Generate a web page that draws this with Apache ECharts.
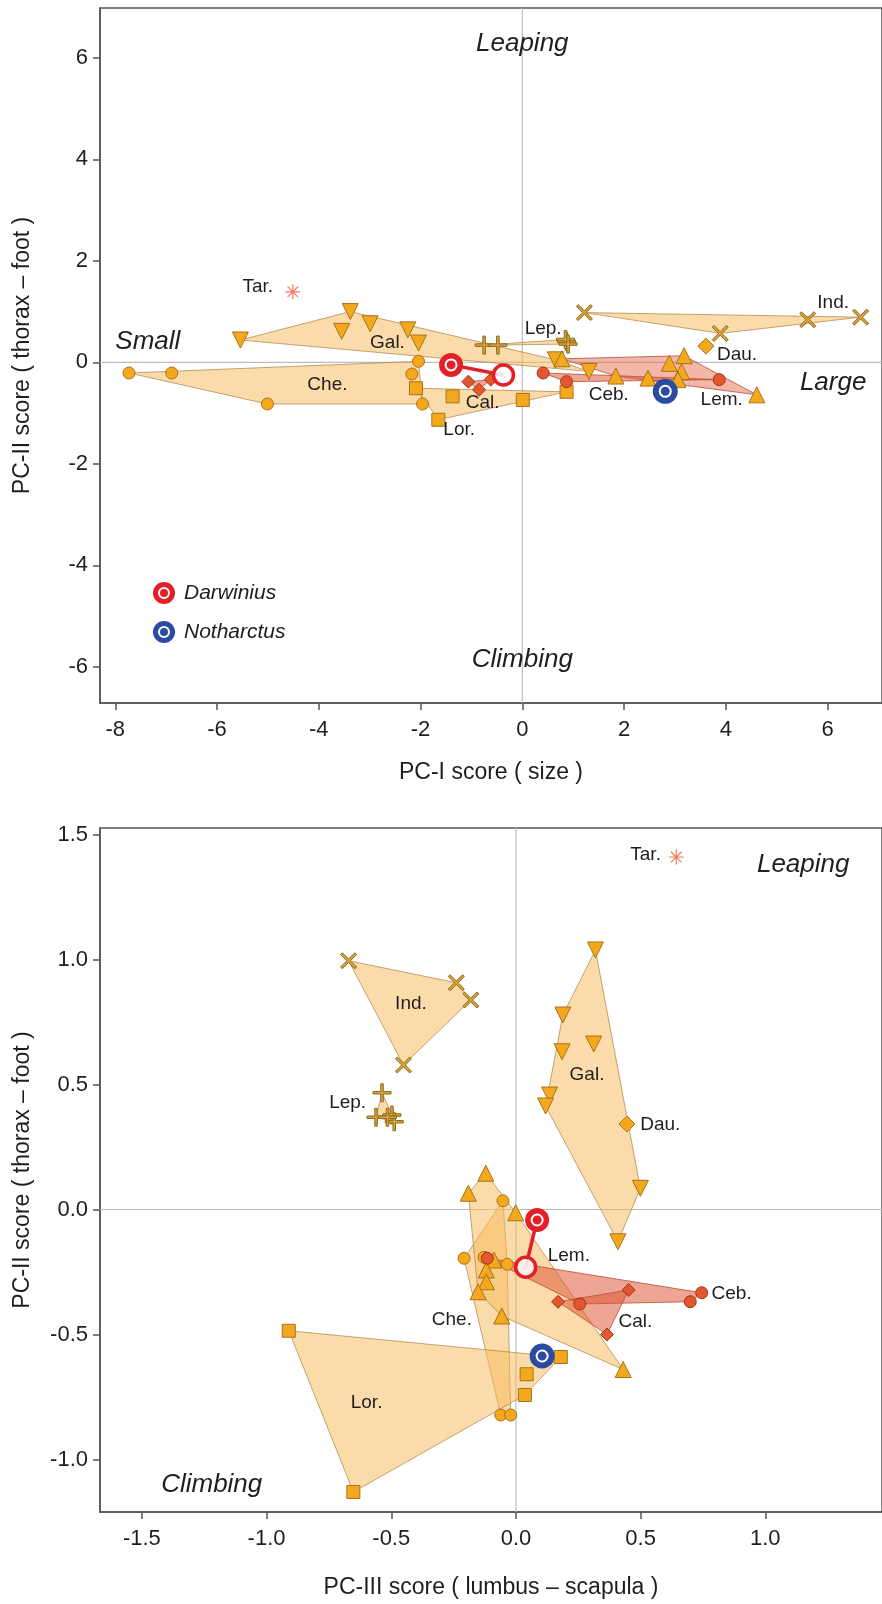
<!DOCTYPE html>
<html><head><meta charset="utf-8">
<script src="https://cdn.jsdelivr.net/npm/echarts@6/dist/echarts.min.js"></script>
<style>html,body{margin:0;padding:0;background:#fff}#c{width:882px;height:1604px}</style>
</head><body><div id="c"></div>
<script>
// ---------- Top chart data: PC-I (size) vs PC-II (thorax - foot)
const topXTicks = [-8, -6, -4, -2, 0, 2, 4, 6];
const topYTicks = [-6, -4, -2, 0, 2, 4, 6];
const topChe = [[-7.73,-0.21],[-6.89,-0.21],[-5.01,-0.82],[-2.04,0.02],[-2.17,-0.23],[-1.96,-0.82]];
const topGal = [[-5.54,0.44],[-3.38,1.00],[-3.55,0.61],[-2.99,0.76],[-2.25,0.64],[-2.04,0.38],[0.65,0.05],[1.31,-0.18]];
const topLor = [[-2.09,-0.51],[-1.37,-0.67],[0.01,-0.74],[0.87,-0.58],[-1.65,-1.13]];
const topLem = [[0.78,0.07],[1.84,-0.27],[2.47,-0.31],[2.89,-0.02],[3.18,0.13],[3.13,-0.18],[3.06,-0.34],[4.61,-0.64]];
const topInd = [[1.22,0.98],[5.61,0.84],[6.65,0.89],[3.89,0.57]];
const topLep = [[-0.75,0.34],[-0.48,0.34],[0.87,0.41],[0.85,0.45],[0.90,0.36]];
const topDau = [[3.61,0.32]];
const topTar = [[-4.51,1.39]];
const topCeb = [[0.41,-0.21],[0.87,-0.38],[3.87,-0.34]];
const topCal = [[-1.06,-0.38],[-0.85,-0.54],[-0.62,-0.34]];
const topDarwinius = [[-1.40,-0.05],[-0.37,-0.25]];
const topNotharctus = [[2.81,-0.57]];
const topLabels = [['Tar.',-5.20,1.49],['Gal.',-2.65,0.38],['Che.',-3.83,-0.44],['Cal.',-0.78,-0.80],['Lor.',-1.24,-1.33],['Lep.',0.41,0.67],['Ind.',6.11,1.17],['Dau.',4.22,0.15],['Ceb.',1.70,-0.64],['Lem.',3.92,-0.74]];
const topBigLabels = [['Leaping',0,6.28],['Climbing',0,-5.86],['Small',-7.36,0.40],['Large',6.11,-0.41]];

// ---------- Bottom chart data: PC-III (lumbus - scapula) vs PC-II (thorax - foot)
const botXTicks = [-1.5, -1.0, -0.5, 0.0, 0.5, 1.0];
const botYTicks = [-1.0, -0.5, 0.0, 0.5, 1.0, 1.5];
const botChe = [[-0.052,0.035],[-0.208,-0.195],[-0.128,-0.191],[-0.035,-0.219],[-0.061,-0.822],[-0.021,-0.822]];
const botGal = [[0.319,1.038],[0.188,0.778],[0.185,0.631],[0.312,0.662],[0.135,0.458],[0.119,0.414],[0.499,0.085],[0.409,-0.129]];
const botLor = [[-0.911,-0.485],[0.18,-0.59],[0.043,-0.659],[0.036,-0.742],[-0.652,-1.13]];
const botLem = [[-0.121,0.145],[-0.191,0.065],[-0.001,-0.013],[-0.088,-0.202],[-0.119,-0.242],[-0.119,-0.289],[-0.152,-0.329],[-0.057,-0.426],[0.43,-0.64]];
const botInd = [[-0.671,0.995],[-0.239,0.907],[-0.181,0.838],[-0.451,0.578]];
const botLep = [[-0.537,0.467],[-0.561,0.369],[-0.497,0.378],[-0.488,0.351],[-0.515,0.369]];
const botDau = [[0.445,0.342]];
const botTar = [[0.643,1.41]];
const botCeb = [[-0.115,-0.195],[0.256,-0.378],[0.699,-0.369],[0.745,-0.333]];
const botCal = [[0.169,-0.369],[0.452,-0.322],[0.365,-0.50]];
const botDarwinius = [[0.085,-0.042],[0.039,-0.231]];
const botNotharctus = [[0.105,-0.586]];
const botLabels = [['Tar.',0.52,1.418],['Ind.',-0.421,0.822],['Lep.',-0.675,0.425],['Gal.',0.285,0.538],['Dau.',0.579,0.338],['Lem.',0.212,-0.186],['Ceb.',0.865,-0.338],['Cal.',0.479,-0.449],['Che.',-0.257,-0.442],['Lor.',-0.599,-0.775]];
const botBigLabels = [['Leaping',1.152,1.378],['Climbing',-1.22,-1.10]];

// ---------- styles
const FONT = "'Liberation Sans', Arial, sans-serif";
const ORANGE = '#f4a81d', ORANGE_B = '#a9711a';
const RED = '#e2572e', RED_B = '#a3341a';
const BROWN = '#d9a13a', BROWN_B = '#8c6a1f';
const HULL_O = 'rgba(248,186,92,0.52)', HULL_O_S = 'rgba(170,130,70,0.7)';
const HULL_R = 'rgba(222,82,50,0.52)', HULL_R_S = 'rgba(180,80,55,0.8)';
const HULL_P = 'rgba(226,96,62,0.45)';
const DARW = '#e41f26', NOTH = '#2b4aa2';
const PATH_X = 'path://M3,1 L10,8 L17,1 L19,3 L12,10 L19,17 L17,19 L10,12 L3,19 L1,17 L8,10 L1,3 Z';
const PATH_PLUS = 'path://M8.6,0 L11.4,0 L11.4,8.6 L20,8.6 L20,11.4 L11.4,11.4 L11.4,20 L8.6,20 L8.6,11.4 L0,11.4 L0,8.6 L8.6,8.6 Z';
const PATH_STAR = 'path://M9.2,0 L10.8,0 L10.8,20 L9.2,20 Z M0,9.2 L20,9.2 L20,10.8 L0,10.8 Z M2.4,3.5 L3.5,2.4 L17.6,16.5 L16.5,17.6 Z M16.5,2.4 L17.6,3.5 L3.5,17.6 L2.4,16.5 Z';

function hull(pts) {
  const p = pts.slice().sort((a, b) => a[0] - b[0] || a[1] - b[1]);
  if (p.length < 3) return p;
  const cross = (o, a, b) => (a[0]-o[0])*(b[1]-o[1]) - (a[1]-o[1])*(b[0]-o[0]);
  const lo = [], up = [];
  for (const q of p) { while (lo.length >= 2 && cross(lo[lo.length-2], lo[lo.length-1], q) <= 0) lo.pop(); lo.push(q); }
  for (let i = p.length-1; i >= 0; i--) { const q = p[i]; while (up.length >= 2 && cross(up[up.length-2], up[up.length-1], q) <= 0) up.pop(); up.push(q); }
  lo.pop(); up.pop();
  return lo.concat(up);
}
function hullSeries(pts, gi, fill, stroke) {
  const h = hull(pts);
  return { type: 'custom', xAxisIndex: gi, yAxisIndex: gi, silent: true, z: 2, clip: true,
    data: [h[0]],
    renderItem: (params, api) => ({ type: 'polygon', shape: { points: h.map(p => api.coord(p)) },
      style: { fill: fill, stroke: stroke, lineWidth: 1 } }) };
}
function zeroLines(gi, xr, yr) {
  return { type: 'custom', xAxisIndex: gi, yAxisIndex: gi, silent: true, z: 1, clip: true,
    data: [[0, 0]],
    renderItem: (params, api) => {
      const a = api.coord([0, yr[0]]), b = api.coord([0, yr[1]]);
      const c = api.coord([xr[0], 0]), d = api.coord([xr[1], 0]);
      return { type: 'group', children: [
        { type: 'line', shape: { x1: a[0], y1: a[1], x2: b[0], y2: b[1] }, style: { stroke: '#bdbdbd', lineWidth: 1.2 } },
        { type: 'line', shape: { x1: c[0], y1: c[1], x2: d[0], y2: d[1] }, style: { stroke: '#bdbdbd', lineWidth: 1.2 } }
      ] };
    } };
}
function pts(data, gi, symbol, size, color, border, rot) {
  return { type: 'scatter', xAxisIndex: gi, yAxisIndex: gi, silent: true, z: 5, data: data,
    symbol: symbol, symbolSize: size, symbolRotate: rot || 0,
    itemStyle: { color: color, borderColor: border, borderWidth: 1, opacity: 1 } };
}
function fossilSeries(darw, noth, gi) {
  return { type: 'custom', xAxisIndex: gi, yAxisIndex: gi, silent: true, z: 10, clip: false,
    data: [darw[0]],
    renderItem: (params, api) => {
      const a = api.coord(darw[0]), b = api.coord(darw[1]), n = api.coord(noth[0]);
      return { type: 'group', children: [
        { type: 'line', shape: { x1: a[0], y1: a[1], x2: b[0], y2: b[1] }, style: { stroke: DARW, lineWidth: 3.5 } },
        { type: 'circle', shape: { cx: b[0], cy: b[1], r: 10 }, style: { fill: 'rgba(255,255,255,0.85)', stroke: DARW, lineWidth: 3.5 } },
        { type: 'circle', shape: { cx: a[0], cy: a[1], r: 12 }, style: { fill: DARW } },
        { type: 'circle', shape: { cx: a[0], cy: a[1], r: 5.5 }, style: { fill: DARW, stroke: '#fff', lineWidth: 2 } },
        { type: 'circle', shape: { cx: n[0], cy: n[1], r: 12.5 }, style: { fill: NOTH } },
        { type: 'circle', shape: { cx: n[0], cy: n[1], r: 5.5 }, style: { fill: NOTH, stroke: '#fff', lineWidth: 2 } }
      ] };
    } };
}
function labelSeries(arr, gi, font) {
  return { type: 'custom', xAxisIndex: gi, yAxisIndex: gi, silent: true, z: 20, clip: false,
    data: arr.map(d => [d[1], d[2]]),
    renderItem: (params, api) => {
      const d = arr[params.dataIndex];
      const c = api.coord([d[1], d[2]]);
      return { type: 'text', x: c[0], y: c[1],
        style: { text: d[0], font: font, fill: '#1e1e1e', align: 'center', verticalAlign: 'middle' } };
    } };
}
function groupSeries(g, gi, lemFill) {
  return [
    hullSeries(g.che, gi, HULL_O, HULL_O_S),
    hullSeries(g.lem, gi, lemFill, lemFill === HULL_O ? HULL_O_S : HULL_R_S),
    hullSeries(g.gal, gi, HULL_O, HULL_O_S),
    hullSeries(g.lor, gi, HULL_O, HULL_O_S),
    hullSeries(g.ind, gi, HULL_O, HULL_O_S),
    hullSeries(g.lep, gi, HULL_O, HULL_O_S),
    hullSeries(g.ceb, gi, HULL_R, HULL_R_S),
    hullSeries(g.cal, gi, HULL_R, HULL_R_S),
    pts(g.che, gi, 'circle', 12, ORANGE, ORANGE_B),
    pts(g.lor, gi, 'rect', 13, ORANGE, ORANGE_B),
    pts(g.gal, gi, 'triangle', 16, ORANGE, ORANGE_B, 180),
    pts(g.lem, gi, 'triangle', 16, ORANGE, ORANGE_B),
    pts(g.ind, gi, PATH_X, 16, BROWN, BROWN_B),
    pts(g.lep, gi, PATH_PLUS, 18, BROWN, BROWN_B),
    pts(g.dau, gi, 'diamond', 16, ORANGE, ORANGE_B),
    pts(g.ceb, gi, 'circle', 12, RED, RED_B),
    pts(g.cal, gi, 'diamond', 13, RED, RED_B),
    { type: 'scatter', xAxisIndex: gi, yAxisIndex: gi, silent: true, z: 5, data: g.tar,
      symbol: PATH_STAR, symbolSize: 15, itemStyle: { color: '#ef5a37' } },
    fossilSeries(g.darw, g.noth, gi)
  ];
}

const AX = { color: '#555', width: 1.5 };
function axis(gi, min, max, ticks, name, gap, isY, fmt) {
  return {
    gridIndex: gi, type: 'value', min: min, max: max,
    axisLine: { show: true, onZero: false, lineStyle: AX },
    axisTick: { show: true, customValues: ticks, length: 7, lineStyle: AX },
    axisLabel: { customValues: ticks, fontSize: 22, color: '#1e1e1e', fontFamily: FONT, margin: isY ? 12 : 16,
      formatter: fmt },
    splitLine: { show: false },
    name: name, nameLocation: 'middle', nameGap: gap,
    nameTextStyle: { fontSize: 23, color: '#1e1e1e', fontFamily: FONT }
  };
}

const topX = [-8.3, 7.07], topY = [-6.71, 6.98];
const botX = [-1.668, 1.468], botY = [-1.21, 1.526];

const chart = echarts.init(document.getElementById('c'), null, { renderer: 'canvas' });
chart.setOption({
  backgroundColor: '#fff',
  animation: false,
  grid: [
    { left: 100, top: 8, width: 784, height: 695, show: true, borderColor: '#555', borderWidth: 1.5, backgroundColor: '#fff' },
    { left: 100, top: 828, width: 784, height: 684, show: true, borderColor: '#555', borderWidth: 1.5, backgroundColor: '#fff' }
  ],
  xAxis: [
    axis(0, topX[0], topX[1], topXTicks, 'PC-I score ( size )', 58, false, v => String(v)),
    axis(1, botX[0], botX[1], botXTicks, 'PC-III score ( lumbus \u2013 scapula )', 64, false, v => v.toFixed(1))
  ],
  yAxis: [
    axis(0, topY[0], topY[1], topYTicks, 'PC-II score ( thorax \u2013 foot )', 66, true, v => String(v)),
    axis(1, botY[0], botY[1], botYTicks, 'PC-II score ( thorax \u2013 foot )', 66, true, v => v.toFixed(1))
  ],
  graphic: [
    { type: 'circle', shape: { cx: 164, cy: 593, r: 11 }, style: { fill: DARW } },
    { type: 'circle', shape: { cx: 164, cy: 593, r: 5 }, style: { fill: DARW, stroke: '#fff', lineWidth: 2 } },
    { type: 'text', x: 184, y: 593, style: { text: 'Darwinius', font: "italic 21px 'Liberation Sans'", fill: '#1e1e1e', verticalAlign: 'middle' } },
    { type: 'circle', shape: { cx: 164, cy: 632, r: 11 }, style: { fill: NOTH } },
    { type: 'circle', shape: { cx: 164, cy: 632, r: 5 }, style: { fill: NOTH, stroke: '#fff', lineWidth: 2 } },
    { type: 'text', x: 184, y: 632, style: { text: 'Notharctus', font: "italic 21px 'Liberation Sans'", fill: '#1e1e1e', verticalAlign: 'middle' } }
  ],
  series: [
    zeroLines(0, topX, topY),
    zeroLines(1, botX, botY),
    ...groupSeries({ che: topChe, gal: topGal, lor: topLor, lem: topLem, ind: topInd, lep: topLep, dau: topDau, tar: topTar,
      ceb: topCeb, cal: topCal, darw: topDarwinius, noth: topNotharctus }, 0, HULL_P),
    ...groupSeries({ che: botChe, gal: botGal, lor: botLor, lem: botLem, ind: botInd, lep: botLep, dau: botDau, tar: botTar,
      ceb: botCeb, cal: botCal, darw: botDarwinius, noth: botNotharctus }, 1, HULL_O),
    labelSeries(topLabels, 0, "19px 'Liberation Sans'"),
    labelSeries(botLabels, 1, "19px 'Liberation Sans'"),
    labelSeries(topBigLabels, 0, "italic 26px 'Liberation Sans'"),
    labelSeries(botBigLabels, 1, "italic 26px 'Liberation Sans'")
  ]
});
</script></body></html>
